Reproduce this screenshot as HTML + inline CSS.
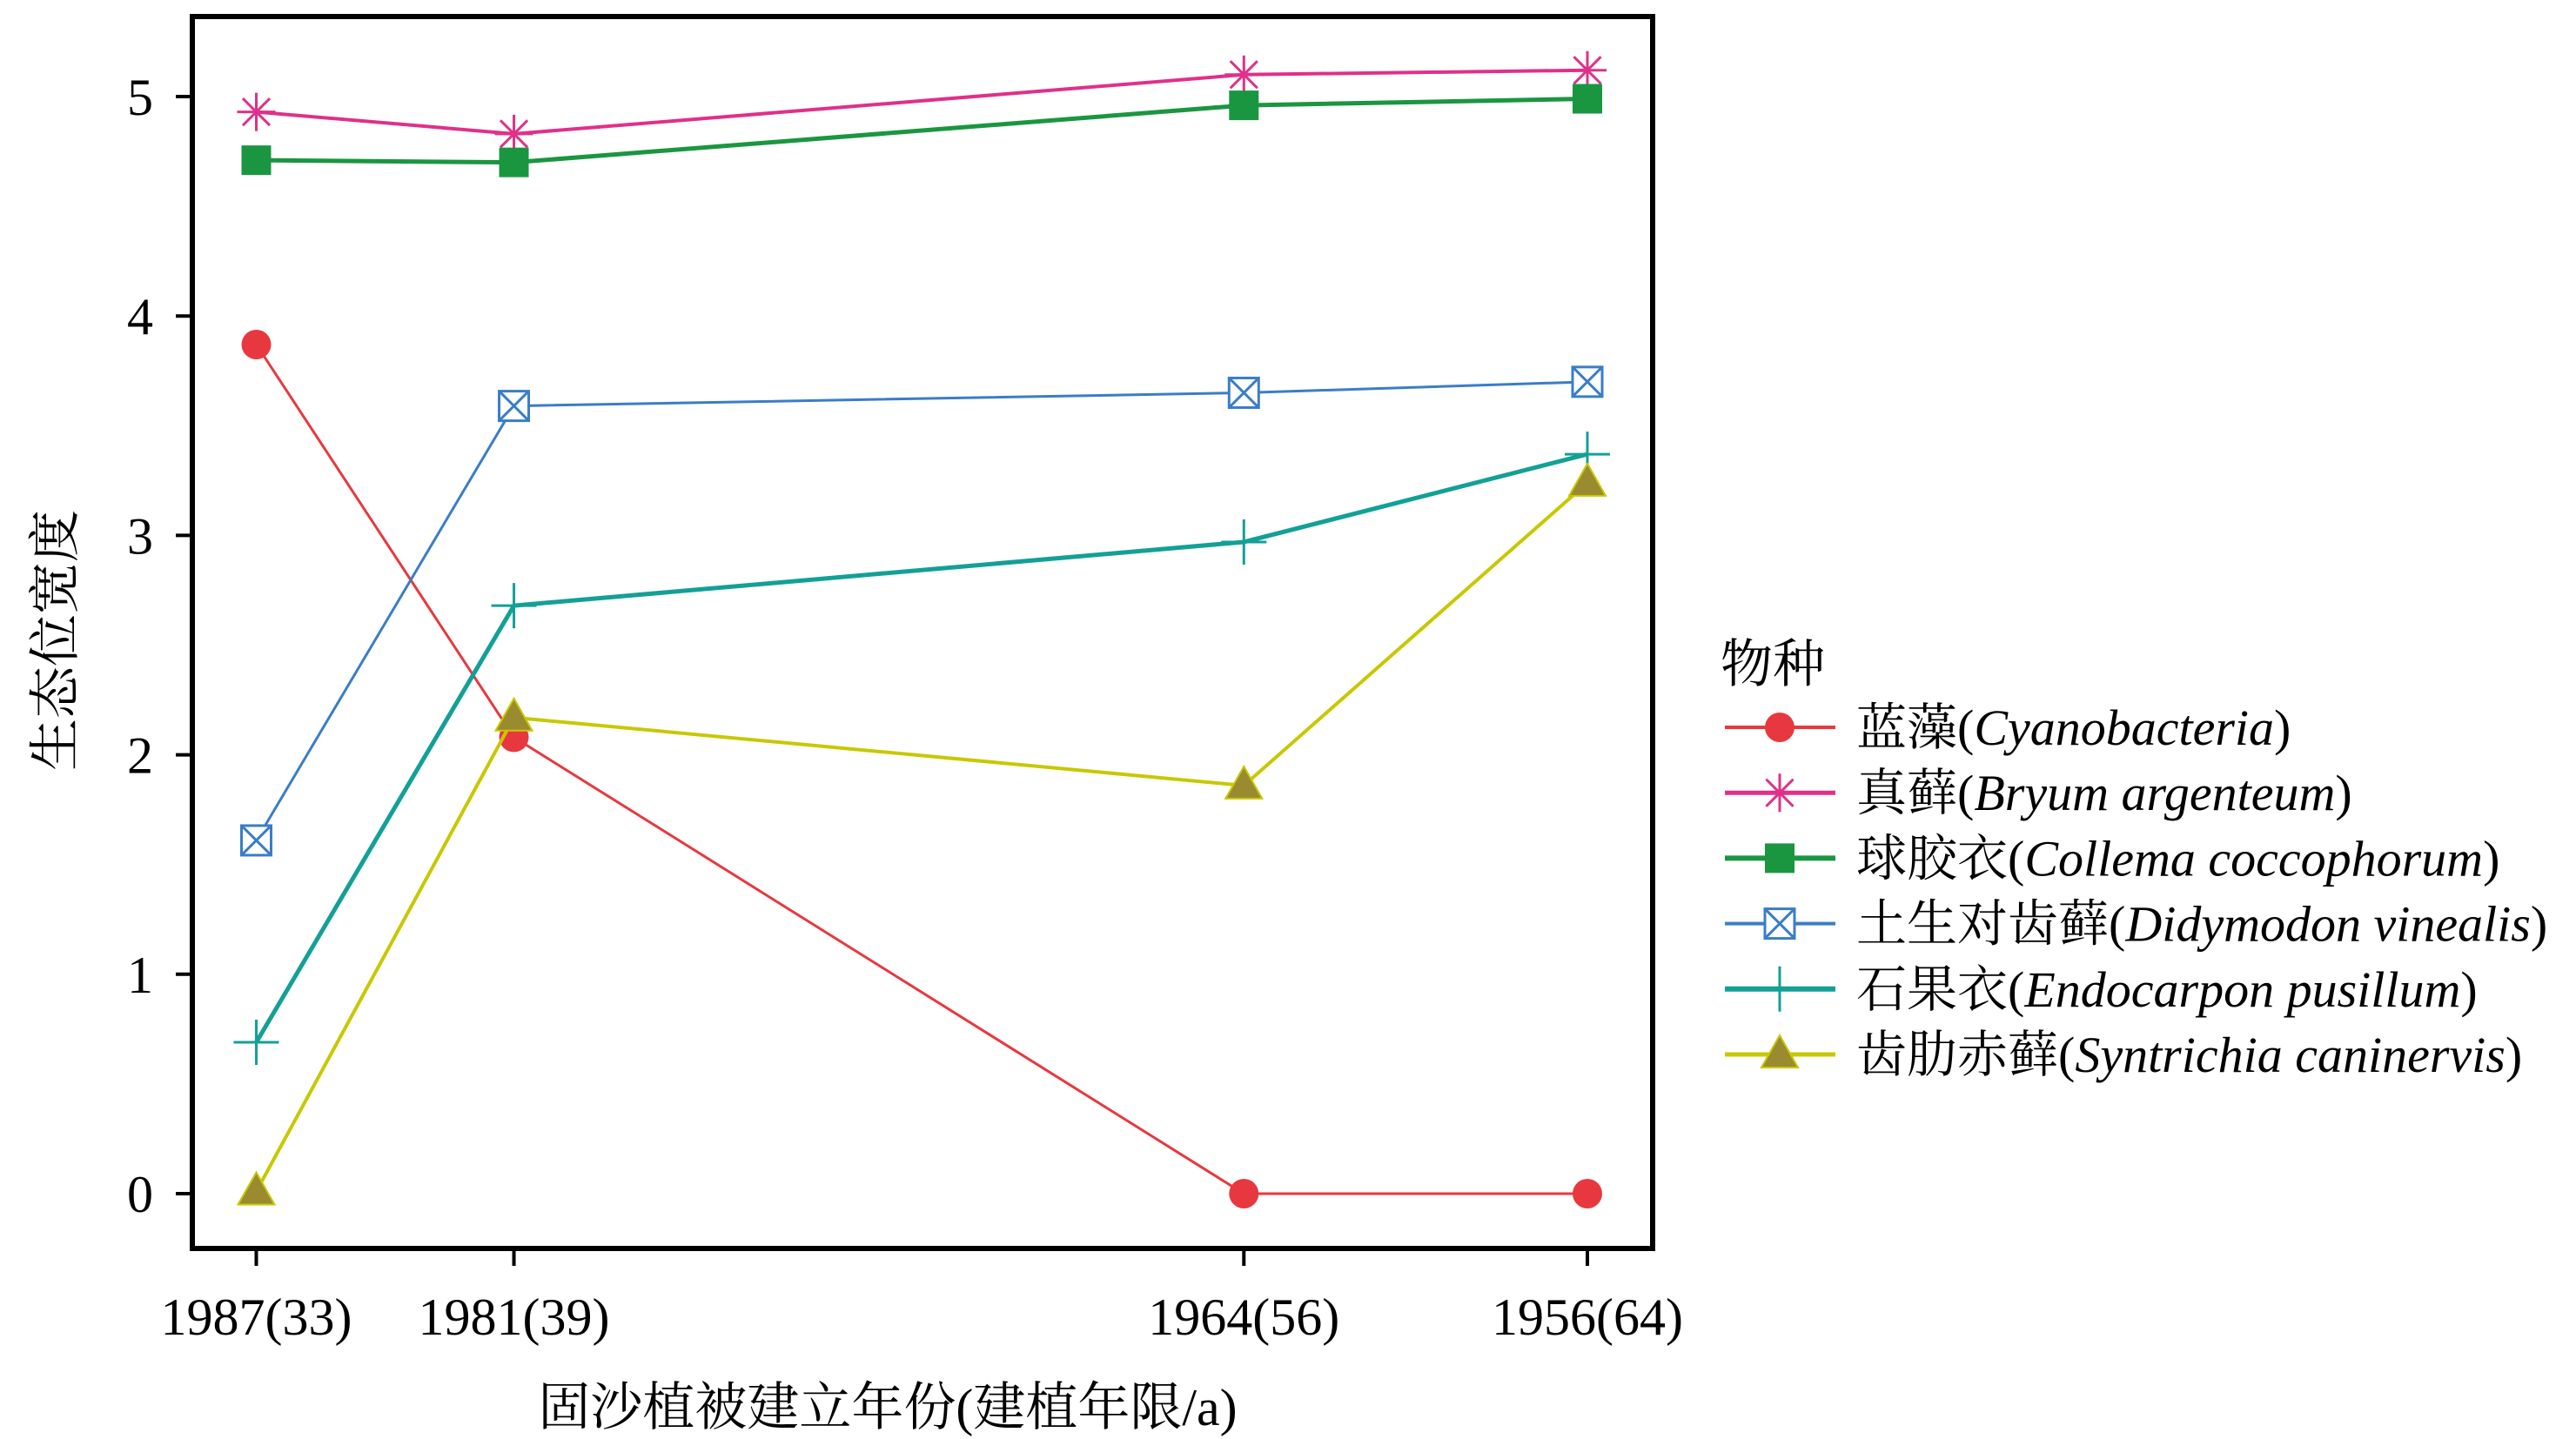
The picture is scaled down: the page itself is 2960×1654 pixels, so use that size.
<!DOCTYPE html>
<html><head><meta charset="utf-8">
<style>
html,body{margin:0;padding:0;background:#fff;}
svg{display:block;font-family:"Liberation Serif","Noto Serif CJK SC",serif;}
</style></head>
<body>
<svg id="chart" width="2960" height="1654" viewBox="0 0 2960 1654" xmlns="http://www.w3.org/2000/svg">
<rect x="221" y="19" width="1678" height="1416" fill="none" stroke="#000" stroke-width="6"/>
<g id="axes"></g>
<g id="series"></g>
<g id="legend"></g>
<text transform="translate(84,736) rotate(-90)" text-anchor="middle" font-size="60">生态位宽度</text>
<text x="1020" y="1638" text-anchor="middle" font-size="60">固沙植被建立年份(建植年限/a)</text>
</svg>
<script>
const categories = ["1987(33)","1981(39)","1964(56)","1956(64)"];
const xYears = [33,39,56,64];
const yTicks = [0,1,2,3,4,5];
const seriesNames = ["蓝藻","真藓","球胶衣","土生对齿藓","石果衣","齿肋赤藓"];
const seriesLatin = ["Cyanobacteria","Bryum argenteum","Collema coccophorum","Didymodon vinealis","Endocarpon pusillum","Syntrichia caninervis"];
const cyanobacteria = [3.87,2.08,0,0];
const bryum = [4.93,4.83,5.10,5.12];
const collema = [4.71,4.70,4.96,4.99];
const didymodon = [1.61,3.59,3.65,3.70];
const endocarpon = [0.69,2.68,2.97,3.37];
const syntrichia = [0.01,2.17,1.86,3.24];

const NS="http://www.w3.org/2000/svg";
const x = v => 294.5 + (v-33)*(1824-294.5)/(64-33);
const y = v => 1372 - v*252.2;
function mk(tag, attrs, parent){const e=document.createElementNS(NS,tag);for(const k in attrs)e.setAttribute(k,attrs[k]);parent.appendChild(e);return e;}
const axes=document.getElementById('axes');
yTicks.forEach(t=>{
  const l=mk('line',{x1:202,x2:221,y1:y(t),y2:y(t),stroke:'#000','stroke-width':4},axes);
  
  
  const tx=mk('text',{x:176,y:y(t)+21,'text-anchor':'end','font-size':60},axes);
  
  
  tx.textContent=t;
});
categories.forEach((c,i)=>{
  const l=mk('line',{x1:x(xYears[i]),x2:x(xYears[i]),y1:1435,y2:1455,stroke:'#000','stroke-width':4},axes);
  
  
  const tx=mk('text',{x:x(xYears[i]),y:1534,'text-anchor':'middle','font-size':60},axes);
  
  
  tx.textContent=c;
});
const styles=[
 {c:'#e8383f',m:'circle',w:3},
 {c:'#e0308a',m:'star',w:4},
 {c:'#1a9641',m:'square',w:5},
 {c:'#3a7dc8',m:'xbox',w:3},
 {c:'#13a096',m:'plus',w:5},
 {c:'#c8c800',m:'tri',w:4}
];
const allData=[cyanobacteria,bryum,collema,didymodon,endocarpon,syntrichia];
function marker(g,type,cx,cy,col,s){
  s=s||1;
  if(type==='circle') mk('circle',{cx:cx,cy:cy,r:17*s,fill:col},g);
  else if(type==='star'){for(let a=0;a<4;a++){const an=a*Math.PI/4;mk('line',{x1:cx-22*s*Math.cos(an),y1:cy-22*s*Math.sin(an),x2:cx+22*s*Math.cos(an),y2:cy+22*s*Math.sin(an),stroke:col,'stroke-width':3},g);}}
  else if(type==='square') mk('rect',{x:cx-17*s,y:cy-17*s,width:34*s,height:34*s,fill:col},g);
  else if(type==='xbox'){const h=17*s;mk('rect',{x:cx-h,y:cy-h,width:2*h,height:2*h,fill:'#fff',stroke:col,'stroke-width':3},g);mk('path',{d:`M${cx-h} ${cy-h}L${cx+h} ${cy+h}M${cx+h} ${cy-h}L${cx-h} ${cy+h}`,stroke:col,'stroke-width':3},g);}
  else if(type==='plus') mk('path',{d:`M${cx-26*s} ${cy}H${cx+26*s}M${cx} ${cy-26*s}V${cy+26*s}`,stroke:col,'stroke-width':3},g);
  else if(type==='tri') mk('path',{d:`M${cx} ${cy-22*s}L${cx+21*s} ${cy+15*s}L${cx-21*s} ${cy+15*s}Z`,fill:'#9a8a30',stroke:'#c8c800','stroke-width':2},g);
}
const sg=document.getElementById('series');
allData.forEach((d,i)=>{
  const g=mk('g',{},sg);
  
  
  const pts=d.map((v,j)=>x(xYears[j])+','+y(v)).join(' ');
  mk('polyline',{points:pts,fill:'none',stroke:styles[i].c,'stroke-width':styles[i].w},g);
  d.forEach((v,j)=>{const mg=mk('g',{},g);
    
    
    marker(mg,styles[i].m,x(xYears[j]),y(v),styles[i].c);});
});
const lg=document.getElementById('legend');


const lt=mk('text',{x:1977,y:784,'font-size':60},lg);


lt.textContent='物种';
seriesNames.forEach((n,i)=>{
  const cy=836+i*75.2;
  const g=mk('g',{},lg);
  
  
  mk('line',{x1:1982,x2:2109,y1:cy,y2:cy,stroke:styles[i].c,'stroke-width':styles[i].w+1},g);
  marker(g,styles[i].m,2045,cy,styles[i].c,1);
  const t=mk('text',{x:2133,y:cy+20,'font-size':58},g);
  t.textContent=n+'(';
  const it=mk('tspan',{'font-style':'italic'},t);
  it.textContent=seriesLatin[i];
  const cl=mk('tspan',{},t);
  cl.textContent=')';
});
</script>
</body></html>
